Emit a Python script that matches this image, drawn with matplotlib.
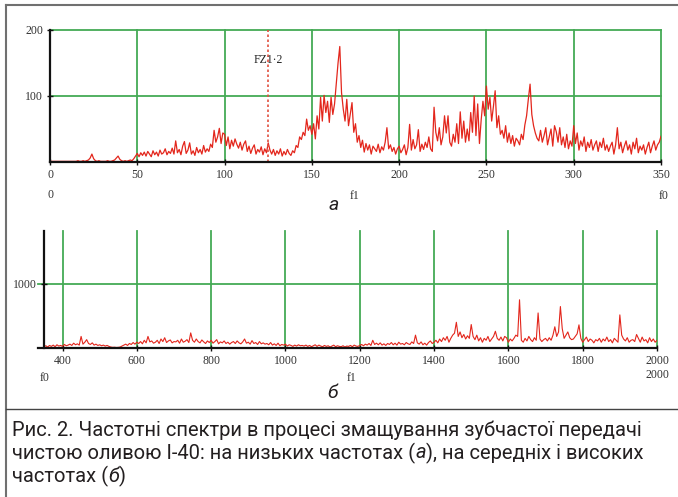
import matplotlib
matplotlib.use("Agg")
import matplotlib.pyplot as plt
from matplotlib.lines import Line2D
import numpy as np

W, H = 678, 497

# low-frequency spectrum, 1 Hz step, 0..350
f_low = np.arange(0, 351, 1)
a_low = [
    1, 1, 1, 1, 1, 1, 1, 1, 1, 1,
    1, 1, 1, 1, 1, 1, 2, 1, 1, 2,
    1, 2, 3, 6, 12, 5, 2, 1, 2, 1,
    1, 1, 1, 2, 1, 1, 2, 3, 6, 9,
    4, 2, 1, 2, 1, 2, 3, 2, 5, 9,
    13, 8, 14, 10, 15, 9, 16, 12, 8, 17,
    11, 15, 9, 18, 12, 14, 20, 11, 16, 13,
    21, 12, 32, 14, 19, 11, 24, 31, 13, 18,
    29, 12, 17, 10, 22, 14, 19, 12, 25, 15,
    20, 16, 27, 22, 48, 30, 38, 51, 28, 44,
    42, 25, 38, 20, 33, 24, 35, 27, 21, 30,
    18, 27, 32, 16, 24, 13, 21, 26, 12, 19,
    15, 23, 11, 20, 14, 29, 18, 12, 19, 10,
    17, 12, 20, 9, 16, 11, 19, 13, 10, 17,
    14, 25, 22, 38, 34, 45, 40, 65, 48, 55,
    42, 58, 35, 70, 50, 98, 62, 101, 75, 92,
    60, 98, 72, 88, 120, 150, 175, 105, 80, 62,
    95, 55, 72, 90, 45, 58, 30, 40, 22, 33,
    15, 28, 18, 26, 12, 24, 20, 16, 27, 14,
    23, 18, 30, 52, 20, 26, 16, 22, 12, 20,
    24, 14, 19, 26, 11, 22, 57, 18, 34, 20,
    26, 49, 16, 27, 19, 30, 22, 38, 20, 16,
    83, 45, 32, 52, 26, 38, 70, 44, 70, 30,
    24, 42, 30, 58, 28, 76, 36, 62, 30, 50,
    32, 75, 45, 100, 40, 88, 28, 64, 92, 70,
    115, 80, 98, 62, 84, 108, 52, 70, 42, 48,
    36, 55, 30, 44, 28, 40, 24, 36, 32, 26,
    42, 34, 56, 70, 95, 118, 72, 55, 44, 36,
    32, 48, 30, 40, 52, 26, 38, 50, 24, 55,
    46, 30, 52, 26, 38, 22, 42, 20, 32, 24,
    55, 28, 44, 18, 32, 24, 38, 16, 30, 22,
    34, 18, 26, 32, 16, 30, 22, 36, 18, 26,
    16, 24, 30, 12, 26, 52, 20, 30, 14, 24,
    32, 18, 26, 12, 30, 20, 36, 14, 24, 18,
    26, 12, 22, 30, 14, 24, 32, 18, 26, 30,
    39,
]

# mid/high-frequency spectrum, 5 Hz step, 350..2000
f_high = np.arange(350, 2001, 5)
a_high = [
    20, 35, 15, 40, 25, 45, 20, 50, 30, 40, 25, 55, 35, 45, 60, 40, 75, 50, 65, 45,
    180, 60, 90, 130, 70, 55, 80, 45, 60, 40, 50, 35, 45, 30, 40, 25, 15, 10, 12, 8,
    10, 15, 30, 45, 60, 40, 70, 55, 85, 60, 90, 70, 100, 65, 120, 80, 180, 95, 110, 75,
    90, 120, 70, 140, 100, 160, 85, 110, 125, 80, 100, 95, 120, 75, 140, 90, 105, 130, 85, 235,
    120, 90, 140, 100, 80, 125, 95, 70, 110, 85, 120, 75, 100, 130, 65, 95, 80, 110, 70, 90,
    60, 85, 100, 70, 110, 80, 65, 95, 140, 75, 90, 60, 115, 70, 85, 55, 100, 65, 80, 60,
    70, 50, 85, 45, 65, 40, 75, 35, 55, 45, 60, 30, 50, 40, 25, 45, 30, 50, 35, 40,
    30, 45, 25, 40, 20, 35, 50, 25, 45, 30, 20, 40, 25, 35, 15, 30, 45, 20, 35, 25,
    20, 35, 15, 30, 25, 40, 20, 45, 30, 25, 40, 55, 35, 60, 45, 70, 40, 120, 55, 75,
    50, 80, 45, 65, 40, 70, 55, 85, 50, 75, 45, 90, 60, 70, 50, 85, 65, 55, 95, 70,
    200, 80, 60, 95, 50, 75, 45, 85, 110, 70, 90, 120, 80, 140, 100, 160, 120, 180, 90, 150,
    200, 230, 400, 180, 250, 160, 210, 140, 190, 150, 365, 180, 130, 200, 110, 160, 90, 150, 120, 180,
    100, 140, 180, 260, 150, 120, 170, 110, 180, 160, 90, 140, 110, 150, 200, 180, 750, 120, 90, 150,
    110, 180, 130, 100, 160, 120, 545, 140, 100, 130, 150, 110, 160, 120, 200, 330, 180, 250, 645, 300,
    150, 200, 250, 160, 130, 140, 180, 220, 360, 150, 90, 130, 170, 100, 140, 120, 80, 130, 110, 150,
    90, 140, 110, 170, 100, 130, 80, 150, 120, 90, 515, 200, 140, 110, 160, 90, 120, 130, 100, 210,
    150, 90, 170, 110, 130, 80, 160, 100, 140, 90, 120,
]

x_ticks_low = [0, 50, 100, 150, 200, 250, 300, 350]
y_ticks_low = [100, 200]
x_ticks_high = [400, 600, 800, 1000, 1200, 1400, 1600, 1800, 2000]
y_ticks_high = [1000]
fz_marker = 125

caption = ["Рис. 2. Частотні спектри в процесі змащування зубчастої передачі",
           "чистою оливою І-40: на низьких частотах (", "а", "), на середніх і високих",
           "частотах (", "б", ")"]

grid_col = "#44aa55"
line_col = "#e3261c"
tick_font = dict(family="Liberation Serif", size=8.5, color="#333333")
cap_fonts = ["Roboto", "Noto Sans", "DejaVu Sans"]


def px_axes(l, t, r, b):
    return fig.add_axes([l / W, 1 - b / H, (r - l) / W, (b - t) / H])


def ftext(x, y, s, **kw):
    fig.text(x / W, 1 - y / H, s, **kw)


fig = plt.figure(figsize=(W / 100, H / 100), dpi=100)

# ---- top chart
ax1 = px_axes(50, 30, 661, 162)
ax1.plot(f_low, a_low, color=line_col, lw=0.9)
ax1.axvline(fz_marker, color="#e05040", lw=1.2, ls=(0, (1.5, 1.5)))
ax1.text(fz_marker, 155, "FZ1·2", ha="center", va="center",
         family="Liberation Serif", size=8.5, color="#222222")
ax1.set_xlim(0, 350)
ax1.set_ylim(0, 200)
ax1.set_xticks(x_ticks_low)
ax1.set_yticks(y_ticks_low)
ax1.grid(True, color=grid_col, lw=1.3)
for gl in ax1.get_xgridlines() + ax1.get_ygridlines():
    gl.set_clip_on(False)
ax1.set_axisbelow(True)

# ---- bottom chart
ax2 = px_axes(38, 231, 657, 348)
ax2.plot(f_high, a_high, color=line_col, lw=0.8)
ax2.set_xlim(334, 2000)
ax2.set_ylim(0, 1820)
ax2.spines["left"].set_position(("data", 350))
ax2.set_xticks(x_ticks_high)
ax2.set_yticks(y_ticks_high)
ax2.grid(True, color=grid_col, lw=1.3)
for gl in ax2.get_xgridlines() + ax2.get_ygridlines():
    gl.set_clip_on(False)
ax2.set_axisbelow(True)

for ax in (ax1, ax2):
    for s in ("top", "right"):
        ax.spines[s].set_visible(False)
    for s in ("left", "bottom"):
        ax.spines[s].set_linewidth(1.6)
        ax.spines[s].set_color("#111111")
    ax.tick_params(direction="inout", length=4, width=1, pad=3, colors="#111111")
    for lab in ax.get_xticklabels() + ax.get_yticklabels():
        lab.set_fontfamily(tick_font["family"])
        lab.set_fontsize(tick_font["size"])
        lab.set_color(tick_font["color"])

# axis range / name labels below the axes
ftext(50, 195, "0", ha="center", va="center", **tick_font)
ftext(355, 196, "f1", ha="center", va="center", **tick_font)
ftext(664, 196, "f0", ha="center", va="center", **tick_font)
ftext(45, 378, "f0", ha="center", va="center", **tick_font)
ftext(352, 378, "f1", ha="center", va="center", **tick_font)
ftext(657, 375, "2000", ha="center", va="center", **tick_font)

ftext(334, 205, "а", ha="center", va="center", family=cap_fonts, style="italic",
      size=14, color="#231f20")
ftext(333, 393, "б", ha="center", va="center", family=cap_fonts, style="italic",
      size=14, color="#231f20")

# frame and separator
gray = "#707070"
fig.add_artist(Line2D([6 / W, 1], [1 - 5 / H, 1 - 5 / H], color=gray, lw=1.5))
fig.add_artist(Line2D([6 / W, 6 / W], [0, 1 - 5 / H], color=gray, lw=1.5))
fig.add_artist(Line2D([6 / W, 1], [1 - 409 / H, 1 - 409 / H], color="#444444", lw=1))

# caption
cap_kw = dict(family=cap_fonts, size=14.5, color="#231f20", va="center", ha="left")
ftext(12, 430, caption[0], **cap_kw)
t = fig.text(12 / W, 1 - 453 / H, caption[1], **cap_kw)
fig.canvas.draw()
r = fig.canvas.get_renderer()


def after(txt, s, italic=False):
    bb = txt.get_window_extent(renderer=r)
    kw = dict(cap_kw)
    if italic:
        kw["style"] = "italic"
    return fig.text(bb.x1 / W, txt.get_position()[1], s, **kw)


t = after(t, caption[2], italic=True)
after(t, caption[3])
t = fig.text(12 / W, 1 - 476 / H, caption[4], **cap_kw)
t = after(t, caption[5], italic=True)
after(t, caption[6])

fig.savefig("out.png", dpi=100)
